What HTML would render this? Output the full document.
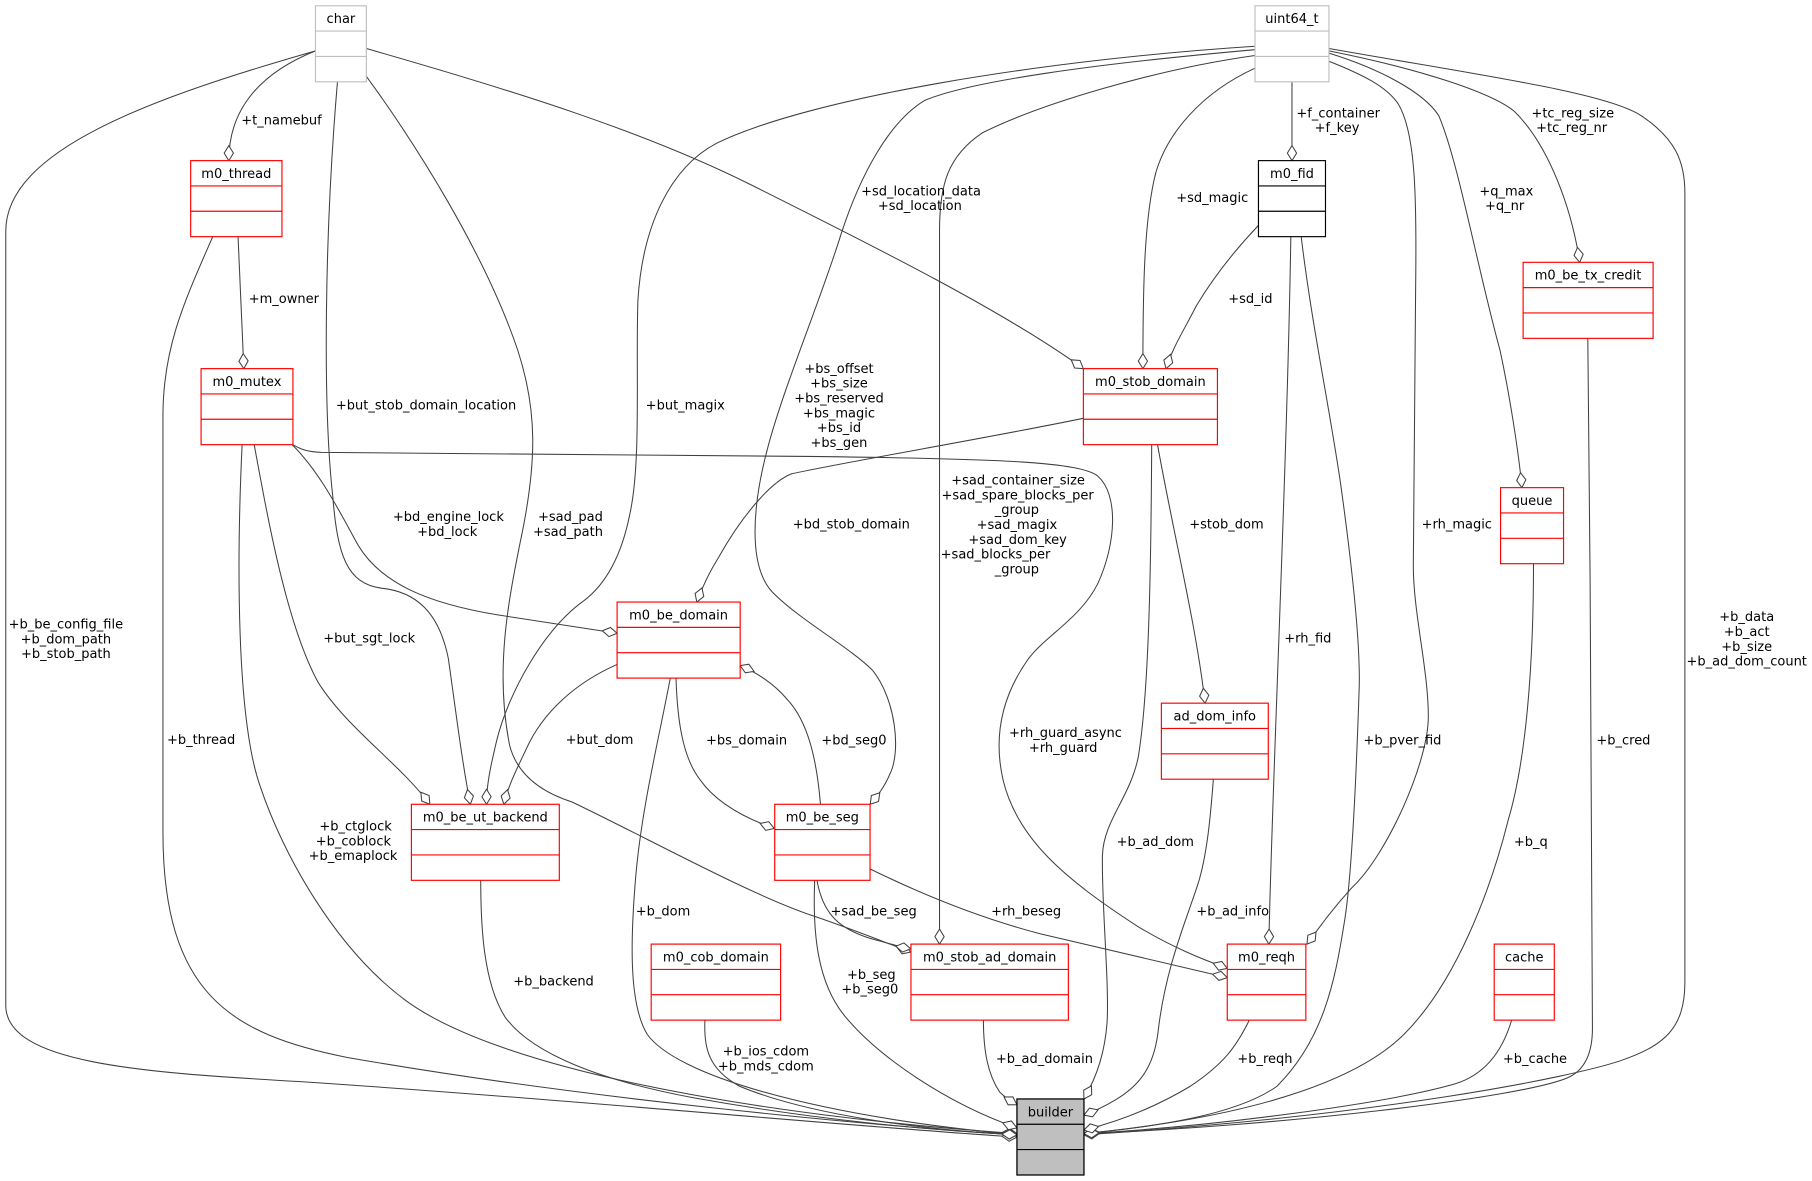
<!DOCTYPE html>
<html>
<head>
<meta charset="utf-8">
<style>
  html, body { margin: 0; padding: 0; background: #ffffff; }
  svg { display: block; }
  text { font-family: "DejaVu Sans", "Liberation Sans", sans-serif; font-size: 11.25px; fill: #000000; }
  .e { fill: none; stroke: #404040; stroke-width: 0.9; marker-end: url(#dia); }
  .r { fill: #ffffff; stroke: #ff0000; stroke-width: 1; }
  .g { fill: #ffffff; stroke: #bfbfbf; stroke-width: 1; }
  .k { fill: #ffffff; stroke: #000000; stroke-width: 1; }
  .b { fill: #bfbfbf; stroke: #000000; stroke-width: 1.1; }
  .lr { stroke: #ff0000; stroke-width: 1; }
  .lg { stroke: #bfbfbf; stroke-width: 1; }
  .lk { stroke: #000000; stroke-width: 1; }
</style>
</head>
<body>
<svg width="1812" height="1181" viewBox="0 0 1568 1022" preserveAspectRatio="none" xmlns="http://www.w3.org/2000/svg">
  <defs>
    <marker id="dia" markerUnits="userSpaceOnUse" markerWidth="16" markerHeight="10" refX="13" refY="4" orient="auto" overflow="visible">
      <path d="M0,4 L6.5,0 L13,4 L6.5,8 Z" fill="#ffffff" stroke="#404040" stroke-width="0.9"/>
    </marker>
  </defs>
  <rect x="0" y="0" width="1568" height="1022" fill="#ffffff"/>

  <!-- EDGES -->
  <path class="e" d="M273,44 C228,62 198,92 198,139"/>
  <path class="e" d="M206,205 L211,319"/>
  <path class="e" d="M273,44 C130,85 5,130 5,200 L5,870 C5,920 120,928 260,936 C500,952 750,976 880,984"/>
  <path class="e" d="M184,205 C160,260 141,300 141,360 L141,720 C141,860 200,895 300,915 C500,950 750,974 880,982"/>
  <path class="e" d="M209.5,385 C205,480 204,620 225,680 C245,740 290,820 350,865 C430,925 650,965 880,981"/>
  <path class="e" d="M220,385 C232,450 248,540 275,590 C300,630 345,660 372,696"/>
  <path class="e" d="M292,71 C281,200 279,350 288,430 C292,480 300,505 330,509 C360,512 380,530 388,570 C395,620 400,660 407,696"/>
  <path class="e" d="M253,385 C278,410 295,445 310,472 C330,505 370,522 430,532 C470,538 510,544 534,548"/>
  <path class="e" d="M252,384 C260,389 266,391 278,391.5 L700,395 C870,397 935,400 950,412 C968,428 966,470 950,505 C935,535 905,550 890,570 C865,605 860,640 868,675 C880,725 920,760 985,802 C1015,820 1040,830 1062,838"/>
  <path class="e" d="M753,752 C800,775 850,795 900,808 L1062,846"/>
  <path class="e" d="M585,587 C586,620 590,655 606,675 C620,695 645,708 670,717"/>
  <path class="e" d="M710,696 C707,660 700,625 681,605 C670,592 655,582 640.5,576"/>
  <path class="e" d="M1086,43 C950,55 840,70 800,87 C770,105 745,150 728,202 C710,260 680,330 665,385 C650,440 648,490 668,512 C690,535 735,560 755,580 C775,605 780,650 770,670 C765,682 758,690 753,696"/>
  <path class="e" d="M1086,48 C1000,60 900,90 850,115 C820,135 813,160 813,200 L813,817"/>
  <path class="e" d="M1086,40 C900,52 700,85 620,124 C580,145 556,195 552,260 C550,320 555,400 545,445 C538,480 525,505 505,520 C470,545 440,600 430,640 C424,665 421,680 421,696"/>
  <path class="e" d="M534,575 C500,590 470,615 455,649 C445,670 440,680 436,696"/>
  <path class="e" d="M317,66 C360,125 420,220 448,303 C465,355 465,400 450,470 C440,520 428,580 441,645 C448,672 470,686 495,694 C560,725 650,775 705,793 C740,805 765,815 788,824"/>
  <path class="e" d="M707,762 C712,790 725,805 760,814 C775,818 782,820 788,821"/>
  <path class="e" d="M937.5,362 C850,380 730,400 685,410 C665,418 640,450 622,482 C612,498 607,510 603,521"/>
  <path class="e" d="M317,42 C450,80 560,115 650,160 C760,215 870,270 937.5,319"/>
  <path class="e" d="M1086,59 C1040,80 1010,115 1000,150 C990,190 989,250 989,319"/>
  <path class="e" d="M1089,195 C1070,215 1050,240 1035,265 C1025,285 1015,300 1009,319"/>
  <path class="e" d="M1118,71 L1118,139"/>
  <path class="e" d="M1150,44 C1230,60 1290,80 1310,96 C1340,125 1360,180 1367,227"/>
  <path class="e" d="M1150,46 C1195,60 1232,80 1245,100 C1262,140 1278,230 1298,303 C1306,340 1314,390 1317,422"/>
  <path class="e" d="M1150,53 C1180,65 1200,75 1210,90 C1225,115 1226,170 1225,250 L1223,490 C1223,530 1236,580 1236,620 C1236,660 1200,740 1170,768 C1150,790 1140,805 1131,817"/>
  <path class="e" d="M1117,205 C1114,400 1100,700 1098,817"/>
  <path class="e" d="M1126,205 C1135,280 1150,350 1160,418 C1170,490 1178,560 1176,600 C1174,660 1170,760 1163,800 C1155,850 1145,900 1105,940 C1070,965 1000,975 938,981"/>
  <path class="e" d="M1374,293 C1376,500 1379,800 1378,890 C1378,910 1372,925 1358,932 C1320,950 1100,975 938,981"/>
  <path class="e" d="M1150,42 C1280,65 1390,80 1420,100 C1450,120 1458,140 1458,167 L1458,850 C1458,890 1440,905 1402,918 C1360,932 1200,965 938,982"/>
  <path class="e" d="M1327,488 C1327,580 1320,660 1305,710 C1290,770 1260,850 1215,895 C1180,930 1100,965 938,981"/>
  <path class="e" d="M1308,883 C1300,910 1285,930 1259,938 C1200,955 1050,975 938,981"/>
  <path class="e" d="M1081,883 C1070,905 1060,920 1030,940 C1000,958 970,970 938,978"/>
  <path class="e" d="M1050,674 C1048,700 1045,740 1036,767 C1025,800 1008,840 1002,894 C998,925 985,940 965,952 C955,958 946,962 938,965"/>
  <path class="e" d="M996.6,385 C996,500 994,600 985,655 C978,690 955,710 954,740 C953,780 960,850 958,885 C956,910 950,930 938,951"/>
  <path class="e" d="M1001.7,385 C1015,460 1035,540 1042.8,608.5"/>
  <path class="e" d="M851,883 C851,910 855,930 865,945 C870,950 875,953 880,956"/>
  <path class="e" d="M705,762 C703,810 708,850 730,878 C760,915 820,955 880,976"/>
  <path class="e" d="M610,883 C609,905 612,925 640,940 C700,965 800,978 880,982"/>
  <path class="e" d="M580,587 C570,640 555,700 550,760 C545,820 545,870 560,895 C585,930 700,965 880,982"/>
  <path class="e" d="M416,762 C416,800 418,850 437,880 C460,912 520,935 600,950 C700,968 800,978 880,982"/>

  <!-- NODES -->
  <rect class="g" x="273" y="5" width="44" height="65.8"/>
  <line class="lg" x1="273" y1="26.9" x2="317" y2="26.9"/>
  <line class="lg" x1="273" y1="48.8" x2="317" y2="48.8"/>
  <text x="295" y="20" text-anchor="middle">char</text>

  <rect class="g" x="1086" y="5" width="64" height="65.8"/>
  <line class="lg" x1="1086" y1="26.9" x2="1150" y2="26.9"/>
  <line class="lg" x1="1086" y1="48.8" x2="1150" y2="48.8"/>
  <text x="1118" y="20" text-anchor="middle">uint64_t</text>

  <rect class="r" x="165" y="139" width="79" height="65.8"/>
  <line class="lr" x1="165" y1="160.9" x2="244" y2="160.9"/>
  <line class="lr" x1="165" y1="182.8" x2="244" y2="182.8"/>
  <text x="204.5" y="154" text-anchor="middle">m0_thread</text>

  <rect class="k" x="1089" y="139" width="58" height="65.8"/>
  <line class="lk" x1="1089" y1="160.9" x2="1147" y2="160.9"/>
  <line class="lk" x1="1089" y1="182.8" x2="1147" y2="182.8"/>
  <text x="1118" y="154" text-anchor="middle">m0_fid</text>

  <rect class="r" x="1318" y="227" width="112.5" height="65.8"/>
  <line class="lr" x1="1318" y1="248.9" x2="1430.5" y2="248.9"/>
  <line class="lr" x1="1318" y1="270.8" x2="1430.5" y2="270.8"/>
  <text x="1374.2" y="242" text-anchor="middle">m0_be_tx_credit</text>

  <rect class="r" x="174" y="319" width="79.5" height="65.8"/>
  <line class="lr" x1="174" y1="340.9" x2="253.5" y2="340.9"/>
  <line class="lr" x1="174" y1="362.8" x2="253.5" y2="362.8"/>
  <text x="213.7" y="334" text-anchor="middle">m0_mutex</text>

  <rect class="r" x="937.5" y="319" width="116" height="65.8"/>
  <line class="lr" x1="937.5" y1="340.9" x2="1053.5" y2="340.9"/>
  <line class="lr" x1="937.5" y1="362.8" x2="1053.5" y2="362.8"/>
  <text x="995.5" y="334" text-anchor="middle">m0_stob_domain</text>

  <rect class="r" x="1298.5" y="422" width="54.5" height="65.8"/>
  <line class="lr" x1="1298.5" y1="443.9" x2="1353" y2="443.9"/>
  <line class="lr" x1="1298.5" y1="465.8" x2="1353" y2="465.8"/>
  <text x="1325.7" y="437" text-anchor="middle">queue</text>

  <rect class="r" x="534" y="521" width="106.5" height="65.8"/>
  <line class="lr" x1="534" y1="542.9" x2="640.5" y2="542.9"/>
  <line class="lr" x1="534" y1="564.8" x2="640.5" y2="564.8"/>
  <text x="587.2" y="536" text-anchor="middle">m0_be_domain</text>

  <rect class="r" x="1005" y="608.5" width="92.5" height="65.8"/>
  <line class="lr" x1="1005" y1="630.4" x2="1097.5" y2="630.4"/>
  <line class="lr" x1="1005" y1="652.3" x2="1097.5" y2="652.3"/>
  <text x="1051.2" y="623.5" text-anchor="middle">ad_dom_info</text>

  <rect class="r" x="356" y="696" width="128" height="65.8"/>
  <line class="lr" x1="356" y1="717.9" x2="484" y2="717.9"/>
  <line class="lr" x1="356" y1="739.8" x2="484" y2="739.8"/>
  <text x="420" y="711" text-anchor="middle">m0_be_ut_backend</text>

  <rect class="r" x="670.4" y="696" width="82.5" height="65.8"/>
  <line class="lr" x1="670.4" y1="717.9" x2="752.9" y2="717.9"/>
  <line class="lr" x1="670.4" y1="739.8" x2="752.9" y2="739.8"/>
  <text x="711.6" y="711" text-anchor="middle">m0_be_seg</text>

  <rect class="r" x="563.5" y="817" width="112" height="65.8"/>
  <line class="lr" x1="563.5" y1="838.9" x2="675.5" y2="838.9"/>
  <line class="lr" x1="563.5" y1="860.8" x2="675.5" y2="860.8"/>
  <text x="619.5" y="832" text-anchor="middle">m0_cob_domain</text>

  <rect class="r" x="788.3" y="817" width="136.2" height="65.8"/>
  <line class="lr" x1="788.3" y1="838.9" x2="924.5" y2="838.9"/>
  <line class="lr" x1="788.3" y1="860.8" x2="924.5" y2="860.8"/>
  <text x="856.4" y="832" text-anchor="middle">m0_stob_ad_domain</text>

  <rect class="r" x="1062" y="817" width="68" height="65.8"/>
  <line class="lr" x1="1062" y1="838.9" x2="1130" y2="838.9"/>
  <line class="lr" x1="1062" y1="860.8" x2="1130" y2="860.8"/>
  <text x="1096" y="832" text-anchor="middle">m0_reqh</text>

  <rect class="r" x="1293" y="817" width="52" height="65.8"/>
  <line class="lr" x1="1293" y1="838.9" x2="1345" y2="838.9"/>
  <line class="lr" x1="1293" y1="860.8" x2="1345" y2="860.8"/>
  <text x="1319" y="832" text-anchor="middle">cache</text>

  <rect class="b" x="880" y="951" width="58" height="65.8"/>
  <line class="lk" x1="880" y1="972.9" x2="938" y2="972.9"/>
  <line class="lk" x1="880" y1="994.8" x2="938" y2="994.8"/>
  <text x="909" y="966" text-anchor="middle">builder</text>

  <!-- EDGE LABELS -->
  <g text-anchor="middle">
    <text x="243.6" y="107.8">+t_namebuf</text>
    <text x="245.6" y="262">+m_owner</text>
    <text x="57" y="544">+b_be_config_file</text>
    <text x="57" y="556.8">+b_dom_path</text>
    <text x="57" y="569.6">+b_stob_path</text>
    <text x="174" y="643.8">+b_thread</text>
    <text x="368.7" y="354.5">+but_stob_domain_location</text>
    <text x="593" y="354.5">+but_magix</text>
    <text x="797" y="169">+sd_location_data</text>
    <text x="796" y="181.8">+sd_location</text>
    <text x="726" y="322.7">+bs_offset</text>
    <text x="726" y="335.5">+bs_size</text>
    <text x="726" y="348.3">+bs_reserved</text>
    <text x="726" y="361.1">+bs_magic</text>
    <text x="726" y="373.9">+bs_id</text>
    <text x="726" y="386.7">+bs_gen</text>
    <text x="1049" y="174.6">+sd_magic</text>
    <text x="1082" y="262">+sd_id</text>
    <text x="1158" y="101.5">+f_container</text>
    <text x="1157" y="114.3">+f_key</text>
    <text x="1361" y="101.5">+tc_reg_size</text>
    <text x="1360" y="114.3">+tc_reg_nr</text>
    <text x="1303.5" y="169">+q_max</text>
    <text x="1302" y="181.8">+q_nr</text>
    <text x="388" y="451">+bd_engine_lock</text>
    <text x="387" y="463.8">+bd_lock</text>
    <text x="493.6" y="451">+sad_pad</text>
    <text x="491.5" y="463.8">+sad_path</text>
    <text x="736.7" y="457.5">+bd_stob_domain</text>
    <text x="881" y="419.4">+sad_container_size</text>
    <text x="880.6" y="432.2">+sad_spare_blocks_per</text>
    <text x="880" y="445">_group</text>
    <text x="880" y="457.8">+sad_magix</text>
    <text x="880.6" y="470.6">+sad_dom_key</text>
    <text x="814" y="483.4" text-anchor="start">+sad_blocks_per</text>
    <text x="880" y="496.2">_group</text>
    <text x="1061.3" y="457.5">+stob_dom</text>
    <text x="1260.6" y="457.5">+rh_magic</text>
    <text x="1511.5" y="537.6">+b_data</text>
    <text x="1511.5" y="550.4">+b_act</text>
    <text x="1511.5" y="563.2">+b_size</text>
    <text x="1511.5" y="576">+b_ad_dom_count</text>
    <text x="319.5" y="555.8">+but_sgt_lock</text>
    <text x="518.8" y="643.8">+but_dom</text>
    <text x="646" y="644.4">+bs_domain</text>
    <text x="739" y="644.4">+bd_seg0</text>
    <text x="922" y="637.8">+rh_guard_async</text>
    <text x="920" y="650.6">+rh_guard</text>
    <text x="1131.7" y="555.8">+rh_fid</text>
    <text x="1213.6" y="644.4">+b_pver_fid</text>
    <text x="1404.8" y="644.4">+b_cred</text>
    <text x="307.7" y="718.8">+b_ctglock</text>
    <text x="305.8" y="731.6">+b_coblock</text>
    <text x="305.5" y="744.4">+b_emaplock</text>
    <text x="999.7" y="732">+b_ad_dom</text>
    <text x="1324.7" y="732">+b_q</text>
    <text x="573.7" y="792.4">+b_dom</text>
    <text x="756" y="792.4">+sad_be_seg</text>
    <text x="888" y="792.4">+rh_beseg</text>
    <text x="1066.7" y="792.4">+b_ad_info</text>
    <text x="479" y="853">+b_backend</text>
    <text x="754" y="847">+b_seg</text>
    <text x="752.7" y="859.8">+b_seg0</text>
    <text x="662.7" y="913.5">+b_ios_cdom</text>
    <text x="662.7" y="926.3">+b_mds_cdom</text>
    <text x="903.8" y="919.8">+b_ad_domain</text>
    <text x="1094.6" y="919.8">+b_reqh</text>
    <text x="1328.3" y="919.8">+b_cache</text>
  </g>
</svg>
</body>
</html>
